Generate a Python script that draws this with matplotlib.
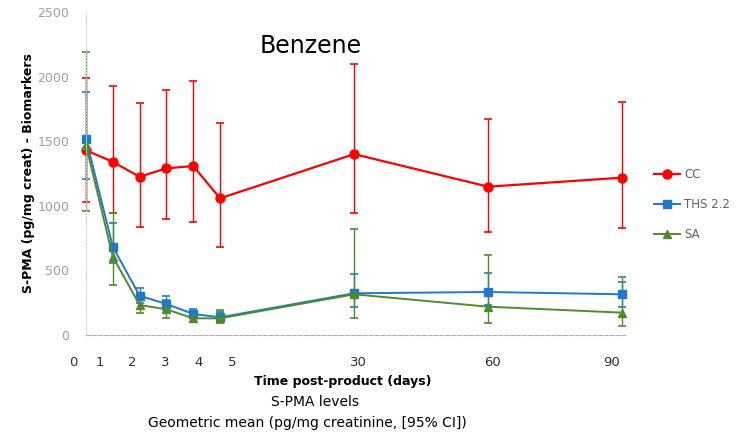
import matplotlib
matplotlib.use("Agg")
import matplotlib.pyplot as plt
import matplotlib.transforms as mtransforms
from matplotlib.lines import Line2D

# sampling visits, shown on a squeezed time axis
visit_pos = [0, 1, 2, 3, 4, 5, 10, 15, 20]
tick_labels = ["0", "1", "2", "3", "4", "5", "30", "60", "90"]
tick_pos = [-0.49, 0.52, 1.72, 2.95, 4.18, 5.45, 10.15, 15.15, 19.6]

# geometric means and 95% CI (pg/mg creatinine)
cc_mean = [1430, 1340, 1225, 1290, 1308, 1058, 1400, 1148, 1218]
cc_low = [1030, 942, 834, 895, 875, 683, 947, 795, 826]
cc_high = [1990, 1927, 1793, 1894, 1966, 1643, 2095, 1669, 1806]

ths_mean = [1520, 683, 304, 240, 163, 137, 323, 333, 315]
ths_low = [1207, 555, 245, 190, 130, 110, 219, 230, 219]
ths_high = [1878, 869, 361, 300, 200, 180, 472, 477, 410]

sa_mean = [1470, 606, 232, 199, 129, 129, 315, 219, 173]
sa_low = [960, 387, 168, 129, 100, 95, 134, 90, 70]
sa_high = [2188, 942, 296, 271, 170, 193, 818, 619, 451]

fig = plt.figure(figsize=(7.49, 4.37), dpi=100)
ax = fig.add_axes([0.1148, 0.2334, 0.7196, 0.7391])

series = [
    ("CC", cc_mean, cc_low, cc_high, "#FF0000", "o", 6.5, 1.6),
    ("THS 2.2", ths_mean, ths_low, ths_high, "#1F78C8", "s", 5.5, 1.4),
    ("SA", sa_mean, sa_low, sa_high, "#4F8A2B", "^", 5.5, 1.4),
]

handles = []
for name, m, lo, hi, col, mk, ms, lw in series:
    yerr = [[a - b for a, b in zip(m, lo)], [b - a for a, b in zip(m, hi)]]
    cont = ax.errorbar(visit_pos, m, yerr=yerr, color=col, marker=mk, markersize=ms,
                       linewidth=lw, elinewidth=1.0, capsize=3, capthick=1.2)
    for art in cont.get_children():
        art.set_clip_on(False)
    handles.append(Line2D([], [], color=col, marker=mk, markersize=ms,
                          linewidth=lw, label=name))

ax.set_xlim(0, 20.1)
ax.set_ylim(0, 2500)
ax.set_yticks([0, 500, 1000, 1500, 2000, 2500])
ax.tick_params(axis="y", length=0, labelsize=9, labelcolor="#A0A0A0", pad=12)
ax.set_xticks([])

for s in ["top", "right"]:
    ax.spines[s].set_visible(False)
ax.spines["left"].set_color("#D0D0D0")
ax.spines["left"].set_linestyle(":")
ax.spines["bottom"].set_color("#B0B0B0")
ax.spines["bottom"].set_linestyle("--")
ax.spines["bottom"].set_linewidth(0.8)

# hand placed tick labels under the axis
trans = mtransforms.blended_transform_factory(ax.transData, ax.transAxes)
for p, t in zip(tick_pos, tick_labels):
    ax.text(p, -0.085, t, transform=trans, ha="center", va="center",
            fontsize=9.5, color="#303030", clip_on=False)

ax.set_ylabel("S-PMA (pg/mg creat) - Biomarkers", fontsize=9, fontweight="bold",
              labelpad=2)

fig.text(0.415, 0.895, "Benzene", fontsize=17, ha="center", va="center")
fig.text(0.457, 0.128, "Time post-product (days)", fontsize=9, fontweight="bold",
         ha="center", va="center")
fig.text(0.42, 0.080, "S-PMA levels", fontsize=10, ha="center", va="center")
fig.text(0.41, 0.032, "Geometric mean (pg/mg creatinine, [95% CI])", fontsize=10,
         ha="center", va="center")

ax.legend(handles=handles, loc="upper left", bbox_to_anchor=(1.035, 0.55),
          frameon=False, fontsize=8.5, labelcolor="#606060", handlelength=2.2,
          labelspacing=1.45, handletextpad=0.3)

fig.savefig("out.png", dpi=100)
